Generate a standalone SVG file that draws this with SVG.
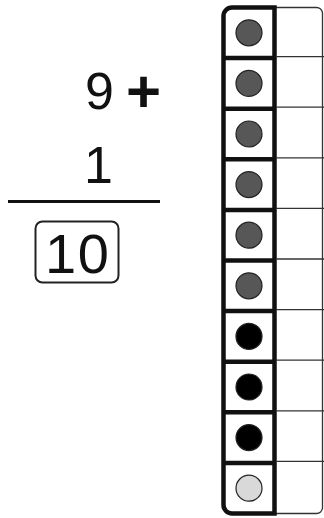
<svg xmlns="http://www.w3.org/2000/svg" width="324" height="518" viewBox="0 0 324 518">
<style>
.num{font-family:"Liberation Sans",Arial,sans-serif;font-size:52px;fill:#111}
.plus{font-family:"Liberation Sans",Arial,sans-serif;font-size:60px;font-weight:bold;fill:#111}
.sep{stroke:#111;stroke-width:4.5}
.thin{stroke:#333;stroke-width:1.3;fill:none}
.c{stroke:#222;stroke-width:1.2}
.g{fill:#575757}
.k{fill:#000}
.l{fill:#d9d9d9}
</style>
<rect width="324" height="518" fill="#fff"/>
<g id="sum">
<text class="num" x="85" y="109">9</text>
<text class="plus" x="143.5" y="112" text-anchor="middle">+</text>
<text class="num" x="84" y="183">1</text>
<line x1="8" y1="201.5" x2="160" y2="201.5" stroke="#111" stroke-width="3"/>
<rect x="35.5" y="221.5" width="83" height="61" rx="7" fill="none" stroke="#222" stroke-width="2"/>
<text class="num" x="45" y="273" style="font-size:56px;letter-spacing:1.5px">10</text>
</g>
<g id="frame">
<path class="thin" d="M276 7.5 H316 A6 6 0 0 1 322.5 13.5 V507.5 A6 6 0 0 1 316 513.5 H276"/>
<path d="M274.5 7.5 H232 A8.5 8.5 0 0 0 223.5 16 V505 A8.5 8.5 0 0 0 232 513.5 H274.5 Z" fill="none" stroke="#111" stroke-width="4.5"/>
</g>
<g id="rows">
<line class="sep" x1="223.5" y1="58.1" x2="274.5" y2="58.1"/><line class="thin" x1="276" y1="56.6" x2="324" y2="56.6"/>
<line class="sep" x1="223.5" y1="108.7" x2="274.5" y2="108.7"/><line class="thin" x1="276" y1="107.2" x2="324" y2="107.2"/>
<line class="sep" x1="223.5" y1="159.3" x2="274.5" y2="159.3"/><line class="thin" x1="276" y1="157.8" x2="324" y2="157.8"/>
<line class="sep" x1="223.5" y1="209.9" x2="274.5" y2="209.9"/><line class="thin" x1="276" y1="208.4" x2="324" y2="208.4"/>
<line class="sep" x1="223.5" y1="260.5" x2="274.5" y2="260.5"/><line class="thin" x1="276" y1="259" x2="324" y2="259"/>
<line class="sep" x1="223.5" y1="311.1" x2="274.5" y2="311.1"/><line class="thin" x1="276" y1="309.6" x2="324" y2="309.6"/>
<line class="sep" x1="223.5" y1="361.7" x2="274.5" y2="361.7"/><line class="thin" x1="276" y1="360.2" x2="324" y2="360.2"/>
<line class="sep" x1="223.5" y1="412.3" x2="274.5" y2="412.3"/><line class="thin" x1="276" y1="410.8" x2="324" y2="410.8"/>
<line class="sep" x1="223.5" y1="462.9" x2="274.5" y2="462.9"/><line class="thin" x1="276" y1="461.4" x2="324" y2="461.4"/>
</g>
<g id="cell1"><circle class="c g" cx="249" cy="32.8" r="13"/></g>
<g id="cell2"><circle class="c g" cx="249" cy="83.4" r="13"/></g>
<g id="cell3"><circle class="c g" cx="249" cy="134" r="13"/></g>
<g id="cell4"><circle class="c g" cx="249" cy="184.6" r="13"/></g>
<g id="cell5"><circle class="c g" cx="249" cy="235.2" r="13"/></g>
<g id="cell6"><circle class="c g" cx="249" cy="285.8" r="13"/></g>
<g id="cell7"><circle class="c k" cx="249" cy="336.4" r="13"/></g>
<g id="cell8"><circle class="c k" cx="249" cy="387" r="13"/></g>
<g id="cell9"><circle class="c k" cx="249" cy="437.6" r="13"/></g>
<g id="cell10"><circle class="c l" cx="249" cy="488.2" r="13"/></g>
</svg>
